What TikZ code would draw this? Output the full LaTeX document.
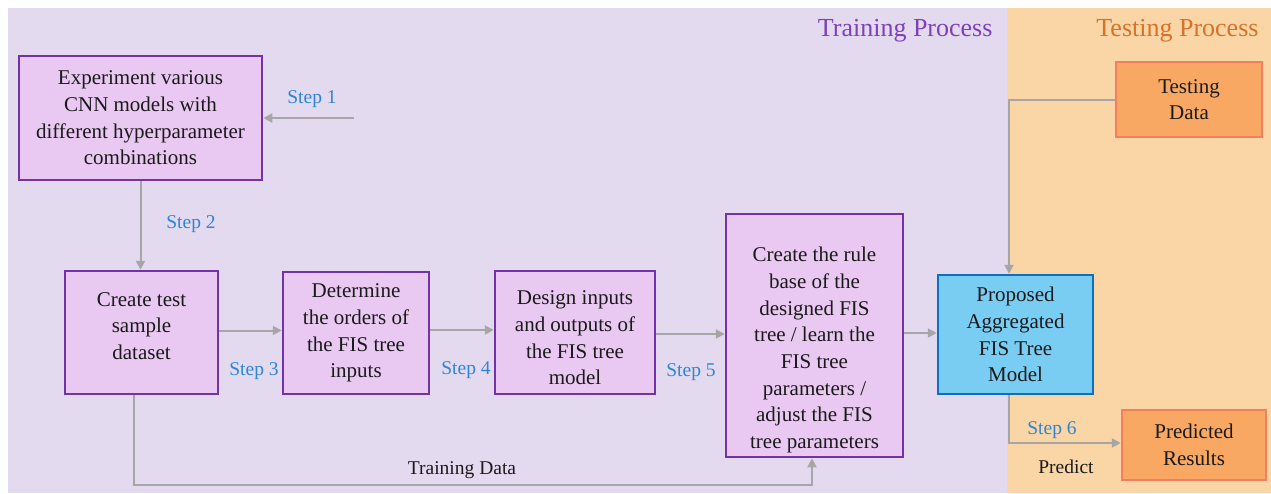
\documentclass[tikz,border=0pt]{standalone}
\usepackage{fontspec}
\setmainfont{Liberation Serif}
\usetikzlibrary{arrows.meta,calc}

\definecolor{trainbg}{HTML}{E4DAF0}
\definecolor{testbg}{HTML}{FAD5A5}
\definecolor{purplefill}{HTML}{E9C8F2}
\definecolor{purpleline}{HTML}{7432A8}
\definecolor{bluefill}{HTML}{79CDF2}
\definecolor{blueline}{HTML}{0A70C2}
\definecolor{orangefill}{HTML}{F8A862}
\definecolor{orangeline}{HTML}{F47E5E}
\definecolor{arrowgray}{HTML}{A6A6A6}
\definecolor{steptext}{HTML}{2E86D2}
\definecolor{traintitle}{HTML}{7E40BC}
\definecolor{testtitle}{HTML}{D8712A}
\definecolor{bodytext}{HTML}{1A1A1A}

\tikzset{
  boxtext/.style={align=center, text=bodytext, font=\fontsize{21}{26.7}\selectfont},
  box/.style={boxtext, draw, line width=2.5pt, inner sep=0pt},
  trainbox/.style={box, draw=purpleline, fill=purplefill},
  modelbox/.style={box, draw=blueline, fill=bluefill},
  databox/.style={box, draw=orangeline, fill=orangefill},
  arr/.style={draw=arrowgray, line width=2pt,
    -{Triangle[length=9pt,width=9pt]}},
  steplabel/.style={text=steptext, font=\fontsize{19.5}{22}\selectfont},
  plainlabel/.style={text=bodytext, font=\fontsize{19.5}{22}\selectfont},
  title/.style={font=\fontsize{26}{30}\selectfont, anchor=east}
}

\begin{document}
\begin{tikzpicture}[x=1pt, y=-1pt]
\useasboundingbox (0,0) rectangle (1271,493);

% process panels
\fill[trainbg] (8,8) rectangle (1007,493);
\fill[testbg] (1007,8) rectangle (1271,493);
\node[title, text=traintitle] (ttrain) at (996,31) {Training Process};
\node[title, text=testtitle] (ttest) at (1262,31) {Testing Process};

% process boxes
\node[trainbox, minimum width=243pt, minimum height=124pt] (b1) at (140.5,118)
  {Experiment various\\CNN models with\\different hyperparameter\\combinations};
\node[trainbox, minimum width=153pt, minimum height=123pt] (b2) at (141.5,332.5) {};
\node[boxtext] (b2t) at (141.5,326) {Create test\\sample\\dataset};
\node[trainbox, minimum width=146pt, minimum height=122pt] (b3) at (356,333)
  {Determine\\the orders of\\the FIS tree\\inputs};
\node[trainbox, minimum width=160pt, minimum height=123pt] (b4) at (575,332.5) {};
\node[boxtext] (b4t) at (575,338) {Design inputs\\and outputs of\\the FIS tree\\model};
\node[trainbox, minimum width=177pt, minimum height=243pt] (b5) at (814.5,335.5) {};
\node[boxtext] (b5t) at (814.5,350)
  {Create the rule\\base of the\\designed FIS\\tree / learn the\\FIS tree\\parameters /\\adjust the FIS\\tree parameters};
\node[modelbox, minimum width=155pt, minimum height=119pt] (b6) at (1015.5,334.5)
  {Proposed\\Aggregated\\FIS Tree\\Model};
\node[databox, minimum width=146pt, minimum height=75pt] (td) at (1189,99.5)
  {Testing\\Data};
\node[databox, minimum width=144pt, minimum height=70pt] (pr) at (1194,445)
  {Predicted\\Results};

% connectors
\coordinate (s1) at (354,118);
\coordinate (tdl) at (0,485);
\draw[arr] (s1) -- (b1.east);
\draw[arr] (b1.south) -- (b1.south |- b2.north);
\draw[arr] ([yshift=2pt]b2.east) -- ([yshift=2pt]b2.east -| b3.west);
\draw[arr] ([yshift=3pt]b3.east) -- ([yshift=3pt]b3.east -| b4.west);
\draw[arr] ([yshift=-1.5pt]b4.east) -- ([yshift=-1.5pt]b4.east -| b5.west);
\draw[arr] ([yshift=2.5pt]b5.east) -- ([yshift=2.5pt]b5.east -| b6.west);
\draw[arr] ([xshift=-8pt]b2.south) -- ([xshift=-8pt]b2.south |- tdl)
  -| ([xshift=-2.5pt]b5.south);
\draw[arr] (td.west) -| ([xshift=-6.5pt]b6.north);
\draw[arr] ([xshift=-6.5pt]b6.south) |- ([yshift=2pt]pr.west);

% connector labels
\node[steplabel] (l1) at (312,99) {Step 1};
\node[steplabel] (l2) at (191,224) {Step 2};
\node[steplabel] (l3) at (254,371) {Step 3};
\node[steplabel] (l4) at (466,370) {Step 4};
\node[steplabel] (l5) at (691,372) {Step 5};
\node[steplabel] (l6) at (1052,430) {Step 6};
\node[plainlabel] (ltd) at (462,470) {Training Data};
\node[plainlabel] (lpr) at (1066,467) {Predict};
\end{tikzpicture}
\end{document}
